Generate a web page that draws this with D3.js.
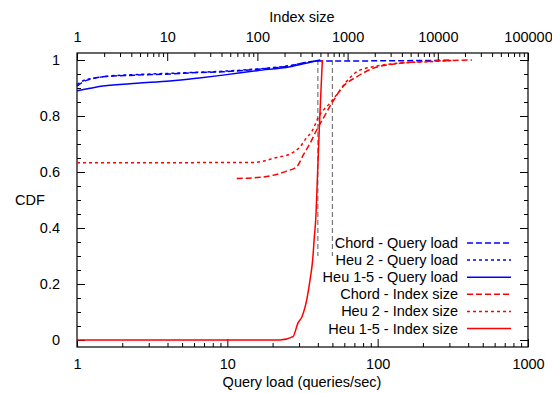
<!DOCTYPE html>
<html><head><meta charset="utf-8">
<script src="https://cdn.jsdelivr.net/npm/d3@7"></script>
<style>body{margin:0;background:#fff}svg{display:block}text{font-family:"Liberation Sans",Arial,sans-serif;font-size:14.5px;fill:#000}</style>
</head><body><svg id="c" width="552" height="393"></svg>
<script>
// Query load (bottom axis) curves: [queries/sec, CDF]
const chordQuery = [[1,0.907],[1.1,0.922],[1.22,0.931],[1.49,0.94],[2.51,0.946],[4.16,0.95],[6.29,0.955],[9.36,0.958],[15.8,0.967],[26.1,0.979],[35.5,0.994],[40,0.996],[100,0.997],[300,0.999]];
const heu2Query = [[1,0.912],[1.1,0.926],[1.3,0.935],[1.6,0.942],[2.5,0.948],[4,0.952],[6.3,0.956],[9.4,0.96],[15.8,0.968],[26,0.98],[35,0.993],[42,0.999]];
const heu15Query = [[1,0.89],[1.22,0.899],[1.49,0.907],[2.51,0.917],[4.16,0.925],[6.29,0.935],[9.36,0.946],[15.8,0.962],[26.1,0.976],[35.5,0.992],[41.4,1.0]];
// Index size (top axis) curves: [index size, CDF]
const chordIndex = [[59,0.577],[107,0.581],[211,0.603],[273,0.619],[323,0.661],[383,0.702],[454,0.75],[533,0.79],[666,0.845],[889,0.905],[1262,0.94],[1913,0.97],[3810,0.988],[8850,0.996],[23900,1.0]];
const heu2Index = [[1,0.633],[89,0.634],[164,0.652],[240,0.667],[297,0.69],[346,0.72],[400,0.744],[482,0.8],[638,0.846],[783,0.882],[1009,0.929],[1270,0.958],[1913,0.976],[3530,0.988],[8200,0.994],[14360,0.998]];
const heu15Index = [[1,0],[178,0],[248,0.012],[282,0.061],[312,0.083],[352,0.143],[383,0.214],[410,0.286],[428,0.369],[443,0.429],[464,0.589],[485,0.75],[507,0.893],[525,1.0]];
// gray vertical reference lines (query load) and their CDF span
const refLines = [40, 50];
const refSpan = [0.3, 1.0];
const bottomTicks = [1,10,100,1000];
const topTicks = [1,10,100,1000,10000,100000];
const yTicks = [0,0.2,0.4,0.6,0.8,1];
const legendLabels = ["Chord - Query load","Heu 2 - Query load","Heu 1-5 - Query load","Chord - Index size","Heu 2 - Index size","Heu 1-5 - Index size"];

const svg = d3.select("#c");
const L=77,R=528,T=53,B=347;
const x = d3.scaleLog().domain([1,1000]).range([L,R]);
const xTop = d3.scaleLog().domain([1,100000]).range([L,R]);
const y = d3.scaleLinear().domain([-0.025,1.025]).range([B,T]);

const BLUE="#0000ff", RED="#ff0000";
const series = [
  {d:chordQuery, sx:x, c:BLUE, dash:"6,3"},
  {d:heu2Query, sx:x, c:BLUE, dash:"3,3"},
  {d:heu15Query, sx:x, c:BLUE, dash:null},
  {d:chordIndex, sx:xTop, c:RED, dash:"6,3"},
  {d:heu2Index, sx:xTop, c:RED, dash:"3,3"},
  {d:heu15Index, sx:xTop, c:RED, dash:null}
];

function minorLog(dom){const out=[];for(let p=dom[0];p<dom[1];p*=10){for(let k=2;k<10;k++)out.push(p*k);}return out;}
const g = svg.append("g");
g.append("g").attr("transform",`translate(0,${B})`)
 .call(d3.axisBottom(x).tickValues(bottomTicks).tickSizeInner(-8).tickSizeOuter(0).tickPadding(12).tickFormat(d3.format("d")));
g.append("g").attr("transform",`translate(0,${B})`)
 .call(d3.axisBottom(x).tickValues(minorLog([1,1000])).tickSizeInner(-4).tickSizeOuter(0).tickFormat(""));
g.append("g").attr("transform",`translate(0,${T})`)
 .call(d3.axisTop(xTop).tickValues(topTicks).tickSizeInner(-8).tickSizeOuter(0).tickPadding(11).tickFormat(d3.format("d")));
g.append("g").attr("transform",`translate(0,${T})`)
 .call(d3.axisTop(xTop).tickValues(minorLog([1,100000])).tickSizeInner(-4).tickSizeOuter(0).tickFormat(""));
const yMinor = d3.range(0,1.0001,0.05).filter(v=>Math.abs(v*5-Math.round(v*5))>1e-6);
g.append("g").attr("transform",`translate(${L},0)`)
 .call(d3.axisLeft(y).tickValues(yTicks).tickSizeInner(-8).tickSizeOuter(0).tickPadding(17).tickFormat(d=>d3.format("")(+d.toFixed(1))));
g.append("g").attr("transform",`translate(${L},0)`)
 .call(d3.axisLeft(y).tickValues(yMinor).tickSizeInner(-4).tickSizeOuter(0).tickFormat(""));
g.append("g").attr("transform",`translate(${R},0)`)
 .call(d3.axisRight(y).tickValues(yTicks).tickSizeInner(-8).tickSizeOuter(0).tickFormat(""));
g.append("g").attr("transform",`translate(${R},0)`)
 .call(d3.axisRight(y).tickValues(yMinor).tickSizeInner(-4).tickSizeOuter(0).tickFormat(""));
g.selectAll(".domain").remove();
g.selectAll(".tick line").attr("stroke","#000").attr("stroke-width",1);
g.selectAll(".tick text").style("font-size","14.5px").style("font-family","'Liberation Sans',Arial,sans-serif").attr("fill","#000");

svg.append("rect").attr("x",L).attr("y",T).attr("width",R-L).attr("height",B-T)
  .attr("fill","none").attr("stroke","#000").attr("stroke-width",1.2);

svg.selectAll("line.ref").data(refLines).join("line").attr("class","ref")
  .attr("x1",d=>x(d)).attr("x2",d=>x(d)).attr("y1",y(refSpan[1])).attr("y2",y(refSpan[0]))
  .attr("stroke","#7a7a7a").attr("stroke-width",1.2).attr("stroke-dasharray","5,3");

const line = s => d3.line().x(d=>s.sx(d[0])).y(d=>y(d[1])).curve(d3.curveMonotoneX);
series.forEach(s=>{
  svg.append("path").attr("d",line(s)(s.d)).attr("fill","none").attr("stroke",s.c)
    .attr("stroke-width",1.5).attr("stroke-dasharray",s.dash);
});

const lg = svg.append("g");
legendLabels.forEach((t,i)=>{
  const yy = 243 + i*17.1;
  lg.append("text").attr("x",458).attr("y",yy+5).attr("text-anchor","end").text(t);
  lg.append("line").attr("x1",467).attr("x2",511).attr("y1",yy).attr("y2",yy)
    .attr("stroke",series[i].c).attr("stroke-width",1.5).attr("stroke-dasharray",series[i].dash);
});

svg.append("text").attr("x",302).attr("y",387).attr("text-anchor","middle").text("Query load (queries/sec)");
svg.append("text").attr("x",302).attr("y",22).attr("text-anchor","middle").text("Index size");
svg.append("text").attr("x",30).attr("y",205).attr("text-anchor","middle").text("CDF");
</script></body></html>
